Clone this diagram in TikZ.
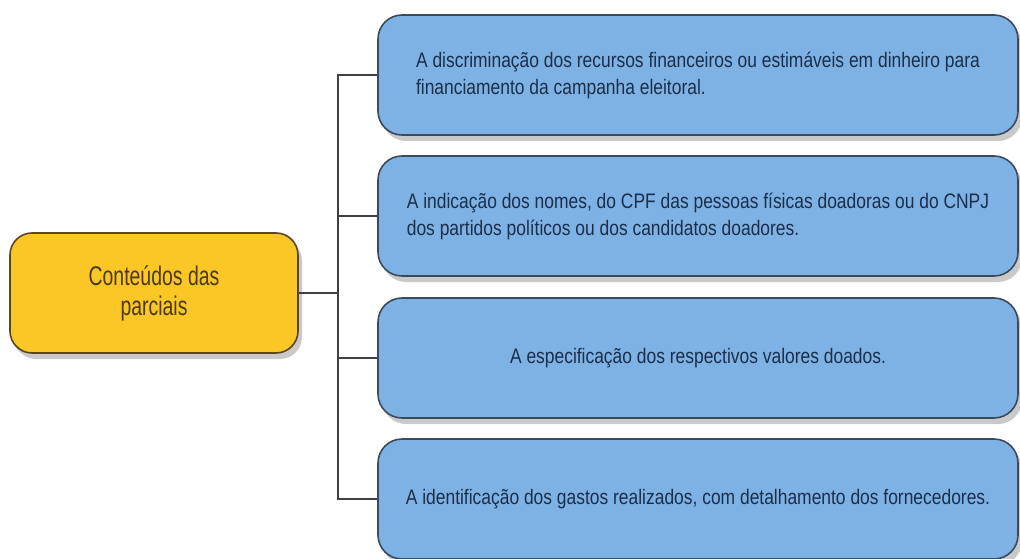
\documentclass[tikz,border=0pt]{standalone}
\usepackage{fontspec}
\setmainfont{Liberation Sans}[FakeStretch=0.83]
\newfontfamily\rootfont{Liberation Sans}[FakeStretch=0.72]
\usetikzlibrary{shadows}
\definecolor{boxblue}{HTML}{7EB2E4}
\definecolor{edgeblue}{HTML}{3C4A5C}
\definecolor{txtblue}{HTML}{1B2E4A}
\definecolor{boxyellow}{HTML}{FBC726}
\definecolor{edgeyellow}{HTML}{5A4520}
\definecolor{txtyellow}{HTML}{4B3A12}
\tikzset{
  topic/.style={draw=edgeblue, line width=1.6pt, fill=boxblue, rounded corners=24pt,
    minimum width=640pt, minimum height=120pt, inner sep=0pt, align=left,
    text=txtblue, font=\fontsize{21}{27}\selectfont,
    drop shadow={shadow xshift=4pt, shadow yshift=-6pt, fill=black!30, opacity=0.7}},
  root/.style={draw=edgeyellow, line width=1.6pt, fill=boxyellow, rounded corners=22pt,
    minimum width=288pt, minimum height=120pt, inner sep=0pt, align=center,
    text=txtyellow, font=\rootfont\fontsize{27}{30}\selectfont,
    drop shadow={shadow xshift=4pt, shadow yshift=-6pt, fill=black!30, opacity=0.7}},
  link/.style={draw=black!75, line width=1.4pt}
}
\begin{document}
\begin{tikzpicture}[x=1pt,y=-1pt]
  \useasboundingbox (0,0) rectangle (1020,559);
  \node[root] (r) at (154,293) {Conteúdos das\\parciais};
  \node[topic] (1) at (698,75) {A discriminação dos recursos financeiros ou estimáveis em dinheiro para\\financiamento da campanha eleitoral.};
  \node[topic] (2) at (698,216) {A indicação dos nomes, do CPF das pessoas físicas doadoras ou do CNPJ\\dos partidos políticos ou dos candidatos doadores.};
  \node[topic] (3) at (698,358) {A especificação dos respectivos valores doados.};
  \node[topic] (4) at (698,499) {A identificação dos gastos realizados, com detalhamento dos fornecedores.};
  \coordinate (j) at (338,293);
  \begin{scope}[link]
    \draw (r.east) -- (j);
    \draw (j) |- (1.west);
    \draw (j) |- (2.west);
    \draw (j) |- (3.west);
    \draw (j) |- (4.west);
  \end{scope}
\end{tikzpicture}
\end{document}
